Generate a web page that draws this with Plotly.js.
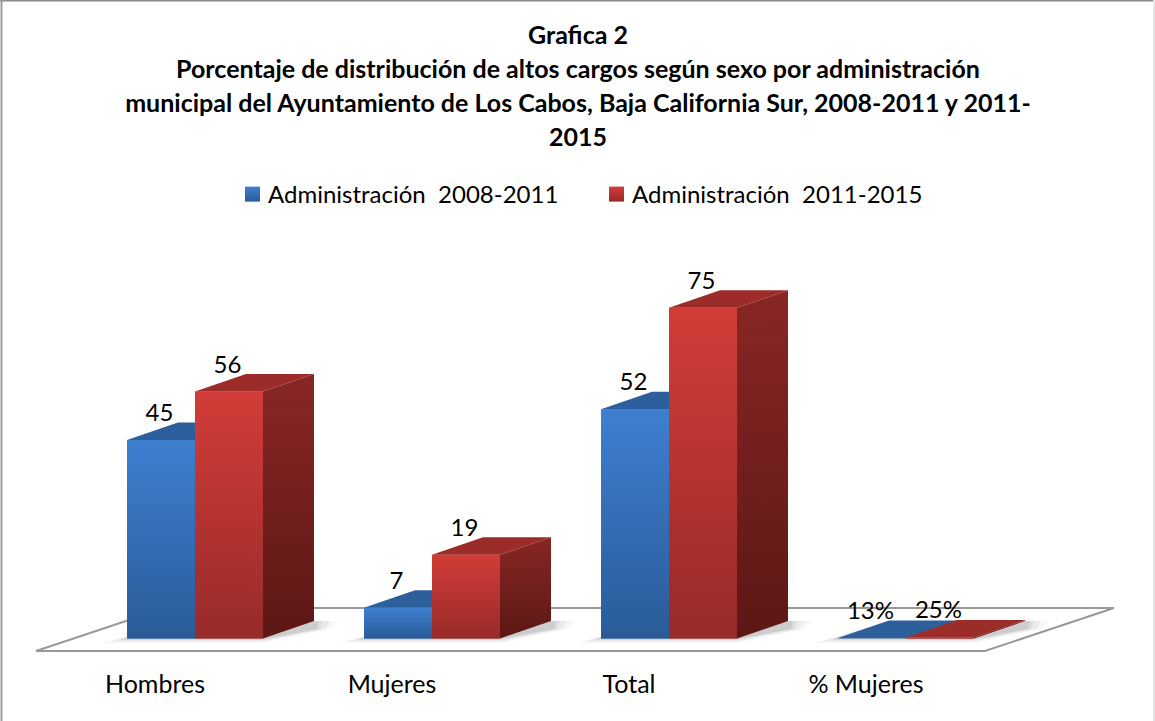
<!DOCTYPE html>
<html><head><meta charset="utf-8">
<script src="https://cdn.plot.ly/plotly-3.0.1.min.js"></script>
<style>html,body{margin:0;padding:0;background:#fff;overflow:hidden}</style>
</head><body><div id="chart" style="width:1155px;height:721px"></div>
<script>
const categories = ['Hombres', 'Mujeres', 'Total', '% Mujeres'];
const seriesNames = ['Administración  2008-2011', 'Administración  2011-2015'];
const values2008 = [45, 7, 52, 0.13];
const values2011 = [56, 19, 75, 0.25];
const labels2008 = ['45', '7', '52', '13%'];
const labels2011 = ['56', '19', '75', '25%'];
const titleLines = ['Grafica 2',
  'Porcentaje de distribución de altos cargos según sexo por administración',
  'municipal del Ayuntamiento de Los Cabos, Baja California Sur, 2008-2011 y 2011-',
  '2015'];

// scale of the chart: pixels per category and per unit
const W = 1155, H = 721, plotBottom = 665;
const pxCat = 237, pxUnit = 4.41, cat0 = 155, zero = 638.5;
const FONT = 'Lato, Carlito, Calibri, sans-serif';
const xr = [-cat0 / pxCat, (W - cat0) / pxCat];
const yr = [-(plotBottom - zero) / pxUnit, zero / pxUnit];
const dx = px => px / pxCat, dy = px => px / pxUnit;
const px2x = p => (p - cat0) / pxCat, px2y = p => (zero - p) / pxUnit;
const paperY = p => (plotBottom - p) / plotBottom;

const barW = dx(68), depthX = dx(51), depthY = dy(17.5);
const off = [dx(-28), dx(40)];          // left edges of the two bars from category centre
const looks = [
  {front: ['#2A5B98', '#3E7FD0'], top: '#2C5F9C', side: ['#1F4472', '#2A5B98']},
  {front: ['#972B29', '#D23C38'], top: '#9B2C29', side: ['#5C1715', '#882725']}
];

function poly(xs, ys, extra) {
  return Object.assign({x: xs, y: ys, mode: 'lines', fill: 'toself', line: {width: 0},
    hoverinfo: 'skip', showlegend: false, type: 'scatter'}, extra);
}
function grad(c) { return {type: 'vertical', colorscale: [[0, c[0]], [1, c[1]]]}; }

// real bars from the data
const traces = [values2008, values2011].map((v, s) => ({
  type: 'bar', x: categories.map((c, i) => i), y: v, name: seriesNames[s],
  width: barW, offset: off[s], marker: {color: looks[s].front[1]}, showlegend: false,
  hovertemplate: '%{y}<extra>' + seriesNames[s] + '</extra>'
}));

// soft shadows on the floor under each pair of bars
for (let i = 0; i < 4; i++) {
  const x0 = i + off[0], x1 = i + off[1] + barW;
  [[16, .05], [11, .07], [6, .09], [3, .12]].forEach(([g, a]) => {
    const gx = dx(g), gy = dy(g * 0.28);
    traces.push(poly(
      [x0 - gx * 1.5, x1, x1 + depthX + gx, x1 + depthX + gx * 1.5, x0 + depthX, x0 - gx * 1.5],
      [-gy, -gy, depthY * 0.55 , depthY, depthY, -gy],
      {fillcolor: 'rgba(90,90,90,' + a + ')'}));
  });
}

// 3D faces, derived from the same values
[values2008, values2011].forEach((v, s) => {
  v.forEach((val, i) => {
    const l = i + off[s], r = l + barW, c = looks[s];
    traces.push(poly([r, r + depthX, r + depthX, r, r], [0, depthY, val + depthY, val, 0],
      {fillgradient: grad(c.side)}));
    traces.push(poly([l, r, r + depthX, l + depthX, l], [val, val, val + depthY, val + depthY, val],
      {fillcolor: c.top}));
    traces.push(poly([l, r, r, l, l], [0, 0, val, val, 0], {fillgradient: grad(c.front)}));
  });
});

// data labels
const labelLift = dy(25), labelShift = dx(-1.5);
[[values2008, labels2008, 0], [values2011, labels2011, 1]].forEach(([v, t, s]) => {
  traces.push({type: 'scatter', mode: 'text', x: v.map((_, i) => i + off[s] + barW / 2 + labelShift),
    y: v.map(a => a + labelLift), text: t, textposition: 'middle center',
    textfont: {family: FONT, size: 24, color: '#000'}, hoverinfo: 'skip', showlegend: false});
});

// legend entries
seriesNames.forEach((n, s) => traces.push({type: 'scatter', mode: 'markers', x: [null], y: [null], name: n,
  marker: {symbol: 'square', size: 15, color: looks[s].front[1],
           gradient: {type: 'vertical', color: looks[s].front[0]}}}));

const floorPts = [[36, 651], [985, 651], [1114, 608], [165, 608]];
const floorPath = 'M' + floorPts.map(p => px2x(p[0]) + ',' + px2y(p[1])).join('L') + 'Z';

const layout = {
  width: W, height: H, margin: {l: 0, r: 0, t: 0, b: H - plotBottom},
  paper_bgcolor: '#fff', plot_bgcolor: 'rgba(0,0,0,0)', barmode: 'overlay',
  title: {text: titleLines.join('<br>'), font: {family: FONT, size: 25, color: '#000', weight: 700},
          x: 578 / W, xanchor: 'center', y: 1 - 44 / H, yanchor: 'top', yref: 'container'},
  xaxis: {range: xr, tickmode: 'array', tickvals: categories.map((c, i) => i), ticktext: categories,
          showgrid: false, zeroline: false, showline: false, ticks: '', fixedrange: true,
          ticklabelstandoff: 2, tickfont: {family: FONT, size: 25, color: '#000'}},
  yaxis: {range: yr, visible: false, showgrid: false, zeroline: false, fixedrange: true},
  legend: {orientation: 'h', x: 228 / W, xanchor: 'left', y: 1 - 172 / plotBottom, yanchor: 'top',
           font: {family: FONT, size: 24, color: '#000'}, entrywidth: 319, entrywidthmode: 'pixels',
           itemsizing: 'trace', traceorder: 'normal', bgcolor: 'rgba(0,0,0,0)'},
  shapes: [
    {type: 'path', path: floorPath, xref: 'x', yref: 'y', layer: 'below',
     fillcolor: '#fff', line: {color: '#999999', width: 2}},
    {type: 'line', xref: 'paper', yref: 'paper', x0: 0, x1: 1, y0: paperY(0.5), y1: paperY(0.5),
     layer: 'below', line: {color: '#8C8C8C', width: 2}},
    {type: 'line', xref: 'paper', yref: 'paper', x0: 1.5 / W, x1: 1.5 / W, y0: paperY(0), y1: paperY(H),
     layer: 'below', line: {color: '#9C9C9C', width: 2}},
    {type: 'line', xref: 'paper', yref: 'paper', x0: 1154 / W, x1: 1154 / W, y0: paperY(0), y1: paperY(H),
     layer: 'below', line: {color: '#E6E6E6', width: 2}}
  ],
  showlegend: true
};
Plotly.newPlot('chart', traces, layout, {displayModeBar: false, staticPlot: true}).then(gd => {
  document.querySelectorAll('.gtitle tspan.line').forEach((t, i) => t.setAttribute('dy', (i * 34) + 'px'));
  document.querySelectorAll('.legend .legendpoints').forEach(g => g.setAttribute('transform', 'translate(4.5,0)'));
});
</script></body></html>
